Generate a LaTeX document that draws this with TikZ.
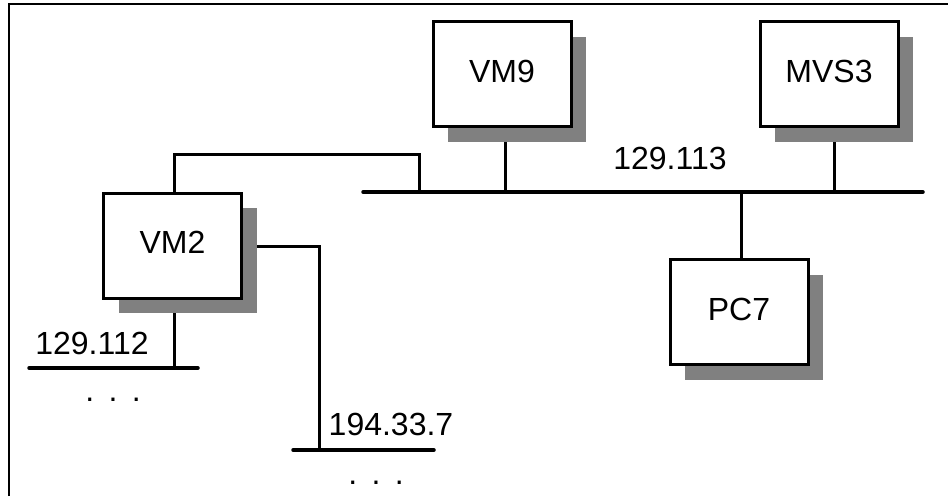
\documentclass[tikz,border=0pt]{standalone}
\usepackage{fontspec}
\setmainfont{Liberation Sans}
\usetikzlibrary{shadows,backgrounds}
\begin{document}
\begin{tikzpicture}[x=1pt,y=-1pt,
  hostbox/.style={draw=black,line width=3pt,fill=white,minimum width=138pt,minimum height=105pt,
    inner sep=0pt,text depth=6pt,font=\fontsize{32}{38}\selectfont,
    drop shadow={shadow xshift=15pt,shadow yshift=-15pt,fill=black!50,opacity=1,draw=none}},
  link/.style={line width=3pt},
  bus/.style={line width=3.5pt,line cap=round},
  lbl/.style={font=\fontsize{32}{38}\selectfont,inner sep=0pt},
  dots/.style={font=\fontsize{32}{38}\selectfont,inner sep=0pt}]
\useasboundingbox (0,0) rectangle (948,496);
\draw[line width=2pt] (9,496) -- (9,4) -- (948,4);
% hosts
\node[hostbox] (vm9) at (502,74) {VM9};
\node[hostbox] (mvs3) at (829,74) {MVS3};
\node[hostbox] (vm2) at (172.5,245.5) {VM2};
\node[hostbox] (pc7) at (739,312) {PC7};
% buses
\coordinate (b1L) at (363,192);
\coordinate (b1R) at (923,192);
\coordinate (b2L) at (29,368);
\coordinate (b2R) at (198,368);
\coordinate (b3L) at (293,450);
\coordinate (b3R) at (434,450);
\coordinate (j1) at (174,154);
\coordinate (j2) at (419,154);
\coordinate (j3) at (319,246);
\begin{scope}[on background layer]
  \draw[bus] (b1L) -- (b1R);
  \draw[bus] (b2L) -- (b2R);
  \draw[bus] (b3L) -- (b3R);
  \draw[link] ([xshift=3pt]vm9.south) -- ([xshift=3pt]vm9.south |- b1L);
  \draw[link] ([xshift=5pt]mvs3.south) -- ([xshift=5pt]mvs3.south |- b1L);
  \draw[link] ([xshift=2pt]pc7.north) -- ([xshift=2pt]pc7.north |- b1L);
  \draw[link] (vm2.north -| j1) -- (j1) -- (j2) -- (j2 |- b1L);
  \draw[link] (vm2.south -| j1) -- (j1 |- b2L);
  \draw[link] (vm2.east |- j3) -- (j3) -- (j3 |- b3L);
\end{scope}
% labels
\node[lbl] (n113) at (670,158) {129.113};
\node[lbl] (n112) at (92,343) {129.112};
\node[lbl] (n194) at (391,424) {194.33.7};
\node[dots] (d112) at (113,400) {.\hspace{0.45em}.\hspace{0.45em}.};
\node[dots] (d194) at (376,483) {.\hspace{0.45em}.\hspace{0.45em}.};
\end{tikzpicture}
\end{document}
